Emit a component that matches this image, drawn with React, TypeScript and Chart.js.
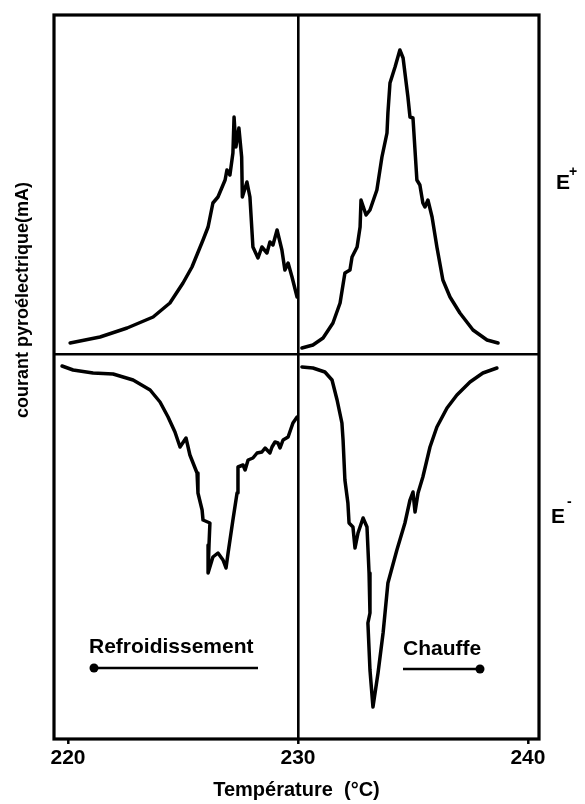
import { useEffect, useRef } from "react";
import { Chart, registerables } from "chart.js";

Chart.register(...registerables);

// ---- axis values ----
const xTicks = [220, 230, 240];
const yRefLines = [0];
const xMin = 219.39;
const xMax = 240.48;
const yMin = -38.5;
const yMax = 33.9;

// ---- E+ , cooling (Refroidissement) ----
const coolPosT = [220.09, 221.39, 222.57, 223.7, 224.43, 225.0, 225.39, 225.87, 226.09, 226.3, 226.52, 226.83, 226.91, 227.04, 227.17, 227.22, 227.3, 227.43, 227.55, 227.58, 227.78, 227.91, 228.04, 228.26, 228.43, 228.65, 228.78, 228.91, 229.09, 229.3, 229.43, 229.57, 229.74, 229.96];
const coolPosI = [1.1, 1.7, 2.6, 3.7, 5.1, 7.1, 8.7, 11.4, 12.7, 15.1, 15.7, 17.4, 18.4, 17.9, 20.1, 23.7, 20.7, 22.6, 19.7, 15.7, 17.2, 15.7, 10.7, 9.6, 10.7, 10.1, 11.2, 10.9, 12.4, 10.4, 8.4, 9.1, 7.7, 5.7];

// ---- E+ , heating (Chauffe) ----
const heatPosT = [230.17, 230.65, 231.09, 231.52, 231.83, 232.04, 232.26, 232.35, 232.57, 232.7, 232.74, 232.96, 233.13, 233.43, 233.65, 233.87, 233.91, 234.0, 234.22, 234.43, 234.57, 234.78, 234.87, 235.0, 235.17, 235.3, 235.43, 235.52, 235.65, 235.83, 236.04, 236.3, 236.61, 237.04, 237.61, 238.22, 238.7];
const heatPosI = [0.6, 0.9, 1.6, 3.1, 5.1, 8.1, 8.4, 9.7, 10.7, 12.7, 15.4, 13.9, 14.4, 16.4, 19.7, 22.1, 24.1, 27.1, 28.7, 30.4, 29.6, 25.7, 23.7, 23.6, 17.4, 16.9, 15.1, 14.7, 15.4, 13.7, 10.7, 7.4, 5.7, 4.1, 2.4, 1.4, 1.1];

// ---- E- , cooling (Refroidissement) ----
const coolNegT = [219.74, 220.22, 221.09, 221.96, 222.83, 223.57, 224.0, 224.35, 224.65, 224.87, 225.13, 225.3, 225.61, 225.65, 225.83, 225.87, 226.17, 226.13, 226.09, 226.3, 226.52, 226.74, 226.87, 226.96, 227.17, 227.35, 227.39, 227.61, 227.7, 227.83, 228.04, 228.22, 228.43, 228.57, 228.78, 228.87, 229.0, 229.13, 229.22, 229.35, 229.57, 229.78, 229.96];
const coolNegI = [-1.2, -1.6, -1.9, -2.0, -2.6, -3.6, -4.8, -6.3, -7.8, -9.3, -8.4, -10.1, -11.9, -13.9, -15.6, -16.6, -16.9, -19.1, -21.9, -20.3, -19.9, -20.6, -21.4, -19.9, -16.6, -13.9, -11.3, -11.1, -11.6, -10.6, -10.4, -9.9, -9.8, -9.4, -9.9, -9.3, -8.8, -8.9, -9.4, -8.6, -8.3, -6.9, -6.3];

// ---- E- , heating (Chauffe) ----
const heatNegT = [230.17, 230.65, 231.17, 231.48, 231.7, 231.91, 231.96, 232.04, 232.17, 232.22, 232.39, 232.48, 232.61, 232.83, 233.0, 233.09, 233.13, 233.04, 233.13, 233.26, 233.48, 233.7, 233.91, 234.3, 234.65, 234.87, 235.0, 235.09, 235.22, 235.43, 235.74, 236.04, 236.48, 236.91, 237.48, 238.04, 238.65];
const heatNegI = [-1.3, -1.4, -1.8, -2.6, -4.6, -6.9, -8.6, -12.6, -14.9, -16.9, -17.3, -19.4, -17.9, -16.4, -17.3, -21.9, -25.9, -26.9, -31.6, -35.3, -31.9, -27.9, -22.9, -19.6, -16.9, -14.6, -13.8, -15.8, -13.9, -12.3, -9.3, -7.3, -5.4, -4.1, -2.8, -1.9, -1.4];

const xTitle = "Température  (°C)";
const yTitle = "courant pyroélectrique(mA)";
const FONT = '"Liberation Sans", Arial, Helvetica, sans-serif';

const toPoints = (t: number[], v: number[]) => t.map((x, i) => ({ x, y: v[i] }));

const overlay = {
  id: "overlay",
  afterDraw(chart: any) {
    const { ctx, chartArea: a } = chart;
    ctx.save();
    ctx.strokeStyle = "#000";
    ctx.fillStyle = "#000";
    ctx.lineWidth = 3.2;
    ctx.strokeRect(a.left, a.top, a.right - a.left, a.bottom - a.top);

    // y-axis title
    ctx.save();
    ctx.font = `bold 18px ${FONT}`;
    ctx.textAlign = "center";
    ctx.textBaseline = "middle";
    ctx.translate(23, 300);
    ctx.rotate(-Math.PI / 2);
    ctx.fillText(yTitle, 0, 0);
    ctx.restore();

    // direction labels
    ctx.font = `bold 21px ${FONT}`;
    ctx.textAlign = "left";
    ctx.textBaseline = "alphabetic";
    ctx.fillText("Refroidissement", 89, 653);
    ctx.fillText("Chauffe", 403, 655);

    ctx.lineWidth = 2.6;
    ctx.beginPath();
    ctx.moveTo(92, 668);
    ctx.lineTo(258, 668);
    ctx.stroke();
    ctx.beginPath();
    ctx.arc(94, 668, 4.5, 0, Math.PI * 2);
    ctx.fill();

    ctx.beginPath();
    ctx.moveTo(403, 669);
    ctx.lineTo(481, 669);
    ctx.stroke();
    ctx.beginPath();
    ctx.arc(480, 669, 4.5, 0, Math.PI * 2);
    ctx.fill();

    // field labels
    ctx.font = `bold 21px ${FONT}`;
    ctx.fillText("E", 556, 189);
    ctx.fillText("E", 551, 523);
    ctx.font = `bold 14px ${FONT}`;
    ctx.fillText("+", 569, 176);
    ctx.fillText("-", 567, 506);
    ctx.restore();
  },
};

export default function App() {
  const ref = useRef<HTMLCanvasElement | null>(null);

  useEffect(() => {
    if (!ref.current) return;
    const line = (data: { x: number; y: number }[]) => ({
      data,
      borderColor: "#000",
      borderWidth: 3.5,
      pointRadius: 0,
      tension: 0,
      fill: false,
      borderJoinStyle: "round" as const,
      borderCapStyle: "round" as const,
    });
    const chart = new Chart(ref.current, {
      type: "line",
      data: {
        datasets: [
          line(toPoints(coolPosT, coolPosI)),
          line(toPoints(heatPosT, heatPosI)),
          line(toPoints(coolNegT, coolNegI)),
          line(toPoints(heatNegT, heatNegI)),
        ],
      },
      options: {
        animation: false,
        responsive: false,
        layout: { padding: { left: 0, top: 15, right: 46, bottom: 0 } },
        plugins: { legend: { display: false }, tooltip: { enabled: false } },
        scales: {
          x: {
            type: "linear",
            min: xMin,
            max: xMax,
            border: { display: false },
            afterBuildTicks: (s: any) => {
              s.ticks = xTicks.map((value) => ({ value }));
            },
            afterFit: (s: any) => {
              s.height = 65;
              s.paddingLeft = 0;
              s.paddingRight = 0;
            },
            grid: {
              color: (c: any) => (c.tick && c.tick.value === 230 ? "#000" : "rgba(0,0,0,0)"),
              lineWidth: 2.6,
              drawTicks: true,
              tickLength: 5,
              tickColor: "#000",
              tickWidth: 2.5,
            },
            ticks: {
              color: "#000",
              font: { family: FONT, size: 21, weight: "bold" },
              padding: 2,
              maxRotation: 0,
              autoSkip: false,
            },
            title: {
              display: true,
              text: xTitle,
              color: "#000",
              font: { family: FONT, size: 20, weight: "bold" },
              padding: { top: 0, bottom: 2 },
            },
          },
          y: {
            type: "linear",
            min: yMin,
            max: yMax,
            border: { display: false },
            afterBuildTicks: (s: any) => {
              s.ticks = yRefLines.map((value) => ({ value }));
            },
            afterFit: (s: any) => {
              s.width = 54;
              s.paddingTop = 0;
              s.paddingBottom = 0;
            },
            grid: { color: "#000", lineWidth: 2.6, drawTicks: false },
            ticks: { display: false },
          },
        },
      },
      plugins: [overlay],
    });
    return () => chart.destroy();
  }, []);

  return (
    <div style={{ position: "absolute", left: 0, top: 0, width: 585, height: 804, background: "#fff" }}>
      <canvas ref={ref} width={585} height={804} style={{ display: "block" }} />
    </div>
  );
}
